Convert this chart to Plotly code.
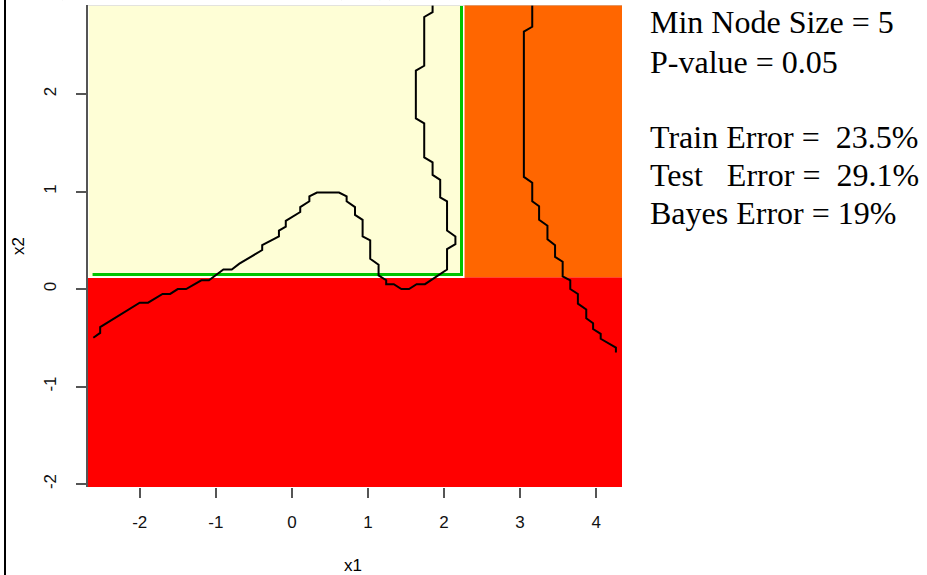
import plotly.graph_objects as go

# Tree partition of the (x1, x2) plane
x1_split = 2.26
x2_split = 0.12
x1_range = [-2.68, 4.34]
x2_range = [-2.03, 2.913]

region_colors = {"low": "#FF0000", "upper_left": "#FEFED6", "upper_right": "#FF6600"}

# Bayes decision boundary, left piece
bayes_a_x1 = [-2.61, -2.52, -2.52, -2.11, -2.00, -1.89, -1.70, -1.60, -1.50, -1.39,
              -1.19, -1.09, -0.90, -0.79, -0.69, -0.39, -0.39, -0.27, -0.17, -0.17,
              -0.08, -0.08, 0.11, 0.11, 0.23, 0.23, 0.33, 0.62, 0.72, 0.72,
              0.83, 0.83, 0.93, 0.93, 1.03, 1.03, 1.14, 1.14, 1.24, 1.24,
              1.34, 1.44, 1.54, 1.64, 1.75, 2.04, 2.04, 2.15, 2.15, 2.04,
              2.04, 1.95, 1.95, 1.85, 1.85, 1.74, 1.74, 1.63, 1.63, 1.74,
              1.74, 1.85, 1.85]
bayes_a_x2 = [-0.50, -0.45, -0.39, -0.19, -0.14, -0.14, -0.05, -0.05, 0.00, 0.00,
              0.09, 0.09, 0.20, 0.20, 0.26, 0.40, 0.45, 0.50, 0.54, 0.60,
              0.64, 0.70, 0.79, 0.84, 0.90, 0.95, 0.99, 0.99, 0.95, 0.90,
              0.84, 0.76, 0.71, 0.54, 0.50, 0.31, 0.25, 0.14, 0.09, 0.05,
              0.05, 0.00, 0.00, 0.05, 0.05, 0.20, 0.41, 0.46, 0.54, 0.60,
              0.90, 0.94, 1.12, 1.17, 1.30, 1.35, 1.70, 1.75, 2.24, 2.29,
              2.79, 2.84, 2.91]

# Bayes decision boundary, right piece
bayes_b_x1 = [3.16, 3.16, 3.05, 3.05, 3.16, 3.16, 3.25, 3.25, 3.36, 3.36,
              3.46, 3.46, 3.56, 3.56, 3.66, 3.66, 3.76, 3.76, 3.87, 3.87,
              3.96, 3.96, 4.06, 4.06, 4.26, 4.26]
bayes_b_x2 = [2.91, 2.69, 2.64, 1.15, 1.09, 0.90, 0.85, 0.71, 0.65, 0.51,
              0.45, 0.33, 0.28, 0.13, 0.09, 0.00, -0.05, -0.15, -0.21, -0.30,
              -0.35, -0.41, -0.46, -0.51, -0.60, -0.65]

info_lines = ["Min Node Size = 5", "P-value = 0.05", "",
              "Train Error =  23.5%", "Test   Error =  29.1%", "Bayes Error = 19%"]
title_text = "(Using g = 1, x\u2082 ~ ctree (x,y))"

x_ticks = [-2, -1, 0, 1, 2, 3, 4]
y_ticks = [-2, -1, 0, 1, 2]

W, H = 927, 575
L, R, T, B = 88, 305, 5, 88
pw, ph = W - L - R, H - T - B


def px_to_paper(px, py):
    return (px - L) / pw, (H - B - py) / ph


fig = go.Figure()

shapes = [
    dict(type="rect", xref="x", yref="y", x0=x1_range[0], x1=x1_range[1],
         y0=x2_range[0], y1=x2_split, fillcolor=region_colors["low"],
         line=dict(width=0), layer="below"),
    dict(type="rect", xref="x", yref="y", x0=x1_split, x1=x1_range[1],
         y0=x2_split, y1=x2_range[1], fillcolor=region_colors["upper_right"],
         line=dict(width=0), layer="below"),
    dict(type="rect", xref="x", yref="y", x0=x1_range[0], x1=x1_split,
         y0=x2_split, y1=x2_range[1], fillcolor=region_colors["upper_left"],
         line=dict(color="white", width=1.5), layer="below"),
    # outline of the selected terminal node
    dict(type="path", xref="x", yref="y",
         path=f"M {x1_range[0] + 0.06} {x2_split + 0.03} L {x1_split - 0.03} {x2_split + 0.03} "
              f"L {x1_split - 0.03} {x2_range[1] - 0.01}",
         line=dict(color="#00C400", width=3), layer="below"),
    # top frame
    dict(type="line", xref="x", yref="y", x0=x1_range[0], x1=x1_range[1],
         y0=x2_range[1], y1=x2_range[1], line=dict(color="#C8C8C8", width=1)),
    # page border on the left
    dict(type="line", xref="paper", yref="paper", x0=px_to_paper(5, 0)[0],
         x1=px_to_paper(5, 0)[0], y0=px_to_paper(0, -5)[1], y1=px_to_paper(0, H + 5)[1],
         line=dict(color="black", width=2)),
]

fig.add_trace(go.Scatter(x=bayes_a_x1, y=bayes_a_x2, mode="lines",
                         line=dict(color="black", width=2), hoverinfo="skip"))
fig.add_trace(go.Scatter(x=bayes_b_x1, y=bayes_b_x2, mode="lines",
                         line=dict(color="black", width=2), hoverinfo="skip"))

annotations = []
line_py = [22, 62, 100, 137, 175, 213]
for txt, py in zip(info_lines, line_py):
    if not txt:
        continue
    ax, ay = px_to_paper(648, py)
    annotations.append(dict(text=txt.replace(" ", "\u00a0"), x=ax, y=ay, xref="paper", yref="paper",
                            xanchor="left", yanchor="middle", showarrow=False,
                            font=dict(family="Liberation Serif", size=32, color="black")))

ax, ay = px_to_paper(353, 565)
annotations.append(dict(text="x1", x=ax, y=ay, xref="paper", yref="paper", showarrow=False,
                        xanchor="center", yanchor="middle",
                        font=dict(family="Liberation Sans", size=17, color="black")))
ax, ay = px_to_paper(18, 246)
annotations.append(dict(text="x2", x=ax, y=ay, xref="paper", yref="paper", showarrow=False,
                        textangle=-90, xanchor="center", yanchor="middle",
                        font=dict(family="Liberation Sans", size=17, color="black")))
ax, ay = px_to_paper(52, -15)
annotations.append(dict(text=title_text, x=ax, y=ay, xref="paper", yref="paper", showarrow=False,
                        xanchor="left", yanchor="middle",
                        font=dict(family="Liberation Serif", size=29, color="black")))

fig.update_layout(
    width=W, height=H,
    margin=dict(l=L, r=R, t=T, b=B),
    paper_bgcolor="white", plot_bgcolor="white",
    showlegend=False,
    shapes=shapes,
    annotations=annotations,
    xaxis=dict(range=x1_range, tickvals=x_ticks, ticktext=[str(v) for v in x_ticks],
               ticks="outside", ticklen=10, tickwidth=1.5, tickcolor="#555555",
               showgrid=False, zeroline=False, showline=False, ticklabelstandoff=10,
               tickfont=dict(family="Liberation Sans", size=17, color="#111111")),
    yaxis=dict(range=x2_range, tickvals=y_ticks, ticktext=[str(v) for v in y_ticks],
               ticks="outside", ticklen=10, tickwidth=1.5, tickcolor="#555555",
               showgrid=False, zeroline=False, showline=True, linecolor="#555555",
               linewidth=1.5, tickangle=-90, ticklabelstandoff=13,
               tickfont=dict(family="Liberation Sans", size=17, color="#111111")),
)

fig.write_html("out.html")
